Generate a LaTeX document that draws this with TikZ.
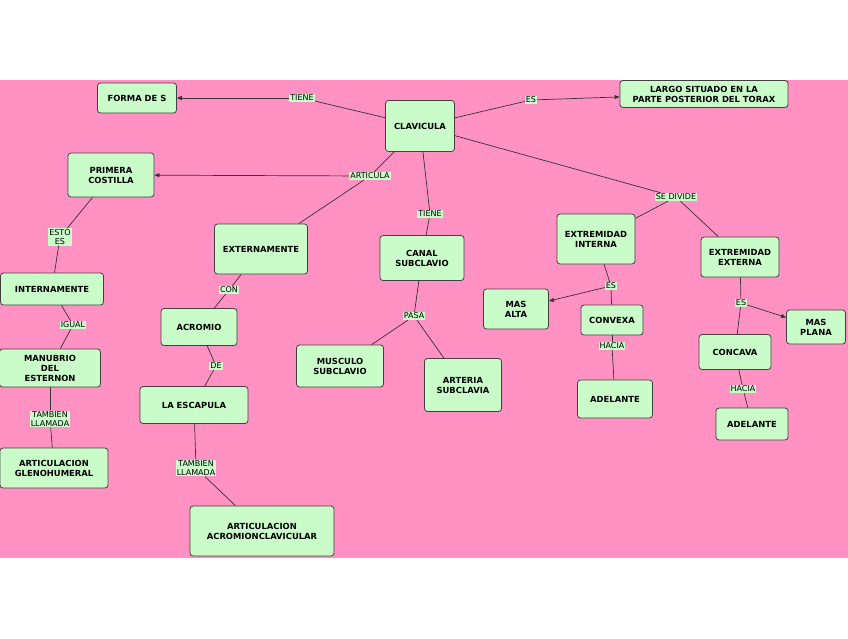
\documentclass[tikz,border=0pt]{standalone}
\usepackage{fontspec}
\setmainfont{DejaVu Sans}
\usetikzlibrary{arrows.meta}
\definecolor{pk}{HTML}{FF92C3}
\definecolor{gn}{HTML}{CAFCCA}
\begin{document}
\begin{tikzpicture}[x=1pt,y=-1pt,
 box/.style={draw=black!75,fill=gn,rounded corners=3pt,line width=0.8pt,align=center,font=\fontsize{8.4}{10}\selectfont\bfseries,inner sep=0pt},
 lab/.style={fill=gn,inner sep=1pt,align=center,font=\fontsize{8}{9}\selectfont},
 ln/.style={draw=black!80,line width=0.7pt},
 ar/.style={ln,-{Triangle[length=5pt,width=4pt]}}]
\useasboundingbox (0,0) rectangle (848,638);
\fill[pk] (0,80) rectangle (848,558);
\def\bx#1#2#3#4#5#6{\node[box,minimum width=#4pt,minimum height=#5pt] (#1) at (#2,#3) {#6};}
\bx{forma}{137}{98}{79}{30}{FORMA DE S}
\bx{clav}{420}{126}{69}{51}{CLAVICULA}
\bx{largo}{704}{94}{168}{27}{LARGO SITUADO EN LA\\PARTE POSTERIOR DEL TORAX}
\bx{prim}{111}{175}{86}{44}{PRIMERA\\COSTILLA}
\bx{ext}{261}{249}{93}{50}{EXTERNAMENTE}
\bx{canal}{422}{258}{84}{45}{CANAL\\SUBCLAVIO}
\bx{exin}{596}{239}{78}{50}{EXTREMIDAD\\INTERNA}
\bx{exex}{740}{257}{78}{40}{EXTREMIDAD\\EXTERNA}
\bx{intern}{52}{289}{103}{32}{INTERNAMENTE}
\bx{alta}{516}{309}{65}{40}{MAS\\ALTA}
\bx{convexa}{612}{320}{62}{30}{CONVEXA}
\bx{plana}{816}{327}{59}{34}{MAS\\PLANA}
\bx{acromio}{199}{327}{76}{37}{ACROMIO}
\bx{manub}{50}{368}{101}{38}{MANUBRIO\\DEL\\ESTERNON}
\bx{musc}{340}{366}{87}{42}{MUSCULO\\SUBCLAVIO}
\bx{art}{463}{385}{77}{53}{ARTERIA\\SUBCLAVIA}
\bx{concava}{735}{352}{72}{35}{CONCAVA}
\bx{adel1}{615}{399}{75}{38}{ADELANTE}
\bx{adel2}{752}{424}{72}{32}{ADELANTE}
\bx{escap}{194}{405}{108}{37}{LA ESCAPULA}
\bx{gleno}{54}{468}{108}{40}{ARTICULACION\\GLENOHUMERAL}
\bx{acl}{262}{531}{144}{50}{ARTICULACION\\ACROMIONCLAVICULAR}
\node[lab] (l1) at (302,98) {TIENE};
\node[lab] (l2) at (531,100) {ES};
\node[lab] (l3) at (370,176) {ARTICULA};
\node[lab] (l4) at (430,214) {TIENE};
\node[lab] (l5) at (676,197) {SE DIVIDE};
\node[lab] (l6) at (60,237) {ESTO\\ES};
\node[lab] (l7) at (229,290) {CON};
\node[lab] (l8) at (73,325) {IGUAL};
\node[lab] (l9) at (414,316) {PASA};
\node[lab] (l10) at (611,286) {ES};
\node[lab] (l11) at (612,346) {HACIA};
\node[lab] (l12) at (741,303) {ES};
\node[lab] (l13) at (743,389) {HACIA};
\node[lab] (l14) at (216,366) {DE};
\node[lab] (l15) at (50,419) {TAMBIEN\\LLAMADA};
\node[lab] (l16) at (196,468) {TAMBIEN\\LLAMADA};
\draw[ln] (clav) -- (l1); \draw[ar] (l1) -- (forma);
\draw[ln] (clav) -- (l2); \draw[ar] (l2) -- (largo);
\draw[ln] (clav) -- (l3); \draw[ar] (l3) -- (prim); \draw[ln] (l3) -- (ext);
\draw[ln] (clav) -- (l4); \draw[ln] (l4) -- (canal);
\draw[ln] (clav) -- (l5); \draw[ln] (l5) -- (exin); \draw[ln] (l5) -- (exex);
\draw[ln] (prim) -- (l6); \draw[ln] (l6) -- (intern);
\draw[ln] (intern) -- (l8); \draw[ln] (l8) -- (manub);
\draw[ln] (manub) -- (l15); \draw[ln] (l15) -- (gleno);
\draw[ln] (ext) -- (l7); \draw[ln] (l7) -- (acromio);
\draw[ln] (acromio) -- (l14); \draw[ln] (l14) -- (escap);
\draw[ln] (escap) -- (l16); \draw[ln] (l16) -- (acl);
\draw[ln] (canal) -- (l9); \draw[ln] (l9) -- (musc); \draw[ln] (l9) -- (art);
\draw[ln] (exin) -- (l10); \draw[ar] (l10) -- (alta); \draw[ln] (l10) -- (convexa);
\draw[ln] (convexa) -- (l11); \draw[ln] (l11) -- (adel1);
\draw[ln] (exex) -- (l12); \draw[ar] (l12) -- (plana); \draw[ln] (l12) -- (concava);
\draw[ln] (concava) -- (l13); \draw[ln] (l13) -- (adel2);
\end{tikzpicture}
\end{document}
